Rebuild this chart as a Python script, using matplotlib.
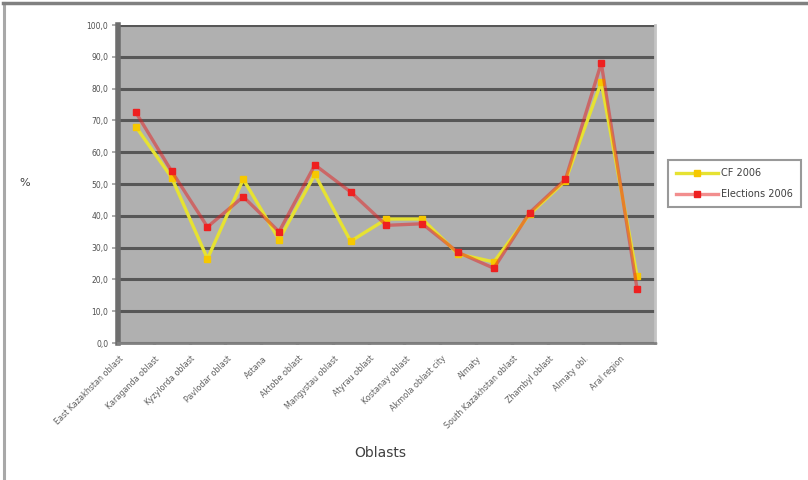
import matplotlib
matplotlib.use("Agg")
import matplotlib.pyplot as plt
from matplotlib.lines import Line2D
from matplotlib.transforms import ScaledTranslation

# regions along the x axis
oblasts = [
    "East Kazakhstan oblast",
    "Karaganda oblast",
    "Kyzylorda oblast",
    "Pavlodar oblast",
    "Astana",
    "Aktobe oblast",
    "Mangystau oblast",
    "Atyrau oblast",
    "Kostanay oblast",
    "Akmola oblast city",
    "Almaty",
    "South Kazakhstan oblast",
    "Zhambyl oblast",
    "Almaty obl.",
    "Aral region",
]

# values per region, %
cf_2006 = [68, 52, 26.5, 51.5, 32.5, 53, 32, 39, 39, 28, 25.5, 40.5, 51, 82, 21]
elections_2006 = [72.5, 54, 36.5, 46, 35, 56, 47.5, 37, 37.5, 28.5, 23.5, 41, 51.5, 88, 17]

series_names = ["CF 2006", "Elections 2006"]
y_ticks = list(range(0, 101, 10))
y_tick_labels = [f"{v},0" for v in y_ticks]

fig = plt.figure(figsize=(8.08, 4.80), dpi=100)
fig.patch.set_facecolor("white")

# chart frame (left and top edges only show)
fig.add_artist(Line2D([0.005, 0.005], [0.0, 0.994], transform=fig.transFigure,
                      color="#a8a8a8", lw=2.2))
fig.add_artist(Line2D([0.004, 1.0], [0.994, 0.994], transform=fig.transFigure,
                      color="#808080", lw=2.5))

ax = fig.add_axes([0.146, 0.2854, 0.6646, 0.6625])
ax.set_facecolor("#b0b0b0")

x = list(range(len(oblasts)))
ax.plot(x, cf_2006, color="#e6e232", lw=2.4, marker="s", markersize=4.5,
        markerfacecolor="#f6c800", markeredgecolor="#f6c800", label=series_names[0],
        zorder=3)
ax.plot(x, elections_2006, color=(0.9, 0.12, 0.12, 0.5), lw=2.4, marker="s",
        markersize=5, markerfacecolor="#ee2020", markeredgecolor="#ee2020",
        label=series_names[1], zorder=4)

ax.set_xlim(-0.5, len(oblasts) - 0.5)
ax.set_ylim(0, 100)

ax.set_yticks(y_ticks)
ax.set_yticklabels(y_tick_labels, fontsize=5.5, color="#505050")
ax.tick_params(axis="y", length=4.5, width=1.2, color="#a0a0a0", pad=2.5)
ax.yaxis.grid(True, color="#575757", lw=2.2)
ax.set_axisbelow(True)

ax.set_xticks(x)
ax.set_xticklabels(oblasts, rotation=45, ha="right", va="top",
                   rotation_mode="anchor", fontsize=5.8, color="#606060")
ax.tick_params(axis="x", length=0, pad=8)
shift = ScaledTranslation(-12 / 72, 0, fig.dpi_scale_trans)
for lbl in ax.get_xticklabels():
    lbl.set_transform(lbl.get_transform() + shift)
ax.set_xticks([i - 0.5 for i in range(len(oblasts) + 1)], minor=True)
ax.tick_params(axis="x", which="minor", length=2, width=2.5, color="#505050",
               direction="inout")

ax.spines["left"].set_color("#6e6e6e")
ax.spines["left"].set_linewidth(4)
ax.spines["bottom"].set_color("#808080")
ax.spines["bottom"].set_linewidth(2)
ax.spines["right"].set_color("#c4c4c4")
ax.spines["right"].set_linewidth(2)
ax.spines["top"].set_visible(False)

fig.text(0.031, 0.618, "%", fontsize=8, color="#404040", ha="center", va="center")
fig.text(0.47, 0.056, "Oblasts", fontsize=10, color="#404040", ha="center", va="center")

leg = fig.legend(loc="upper left", bbox_to_anchor=(0.8267, 0.6667), fontsize=7,
                 frameon=True, fancybox=False, handlelength=4.3, borderaxespad=0,
                 borderpad=0.85, labelspacing=1.1, handletextpad=0.3)
leg.get_frame().set_edgecolor("#808080")
leg.get_frame().set_linewidth(1.5)
for t in leg.get_texts():
    t.set_color("#404040")

fig.savefig("out.png", dpi=100, facecolor="white")
